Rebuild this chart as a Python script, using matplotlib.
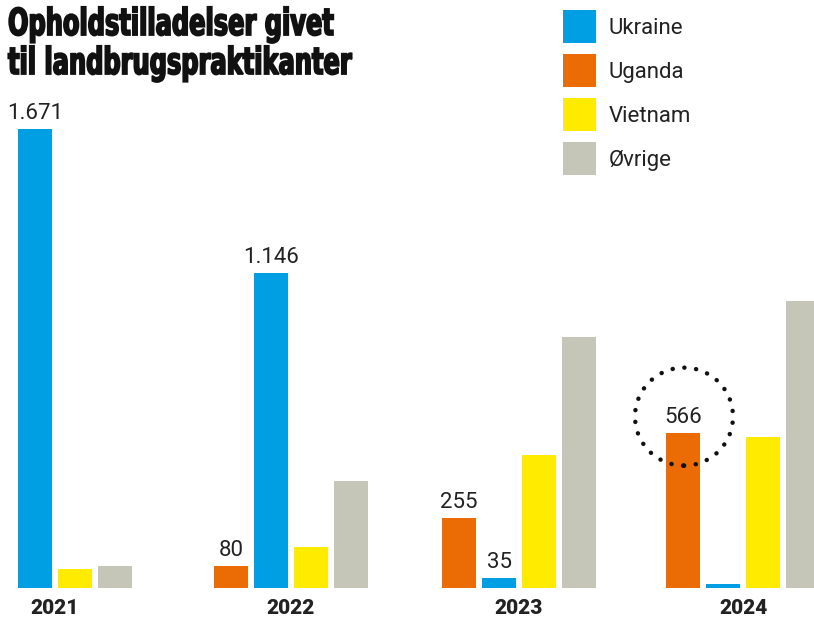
import matplotlib
matplotlib.use("Agg")
import matplotlib.pyplot as plt
from matplotlib.patches import Ellipse
from matplotlib.patheffects import AbstractPathEffect
from matplotlib.transforms import Affine2D

# Data
years = ['2021', '2022', '2023', '2024']
ukraine = [1671, 1146, 35, 13]
uganda = [0, 80, 255, 566]
vietnam = [68, 148, 483, 549]
ovrige = [79, 389, 913, 1044]
# which bars carry a value label
label_uganda = [False, True, True, True]
label_ukraine = [True, True, True, False]

# Colours
c_ukraine = '#009FE3'
c_uganda = '#EB6B05'
c_vietnam = '#FFEB00'
c_ovrige = '#C5C5B8'
txt = '#222222'


class Squeeze(AbstractPathEffect):
    # squeeze text horizontally (and fatten it a bit) to fake a condensed black face
    def __init__(self, sx=0.65, lw=0.0):
        super().__init__()
        self.sx = sx
        self.lw = lw

    def draw_path(self, renderer, gc, tpath, affine, rgbFace=None):
        m = affine.get_matrix().copy()
        m[0, 0] *= self.sx
        m[0, 1] *= self.sx
        gc0 = renderer.new_gc()
        gc0.copy_properties(gc)
        if self.lw:
            gc0.set_linewidth(self.lw)
            gc0.set_foreground(rgbFace)
            gc0.set_joinstyle('miter')
        renderer.draw_path(gc0, tpath, Affine2D(m), rgbFace)
        gc0.restore()


# Layout in pixel-like units
group_x = [55, 291, 519, 743]
bw = 34
step = 40
px_per_unit = 0.2745

fig = plt.figure(figsize=(8.14, 6.17), dpi=100)
ax = fig.add_axes([0, 0, 1, 1])
ax.set_xlim(0, 814)
ax.set_ylim(-29 / px_per_unit, (617 - 29) / px_per_unit)
ax.axis('off')

x_ug = [g - 1.5 * step for g in group_x]
x_uk = [g - 0.5 * step for g in group_x]
x_vi = [g + 0.5 * step for g in group_x]
x_ov = [g + 1.5 * step for g in group_x]

b_uk = ax.bar(x_uk, ukraine, width=bw, color=c_ukraine, label='Ukraine')
b_ug = ax.bar(x_ug, uganda, width=bw, color=c_uganda, label='Uganda')
b_vi = ax.bar(x_vi, vietnam, width=bw, color=c_vietnam, label='Vietnam')
b_ov = ax.bar(x_ov, ovrige, width=bw, color=c_ovrige, label='Øvrige')

def fmt(v):
    return f'{v:,}'.replace(',', '.')

lab_font = dict(family='Roboto', fontsize=16, color=txt, ha='center', va='bottom')
pad = 5 / px_per_unit
for i in range(len(years)):
    if label_uganda[i]:
        ax.text(x_ug[i], uganda[i] + pad, fmt(uganda[i]), **lab_font)
    if label_ukraine[i]:
        ax.text(x_uk[i], ukraine[i] + pad, fmt(ukraine[i]), **lab_font)
    ax.text(group_x[i], -21 / px_per_unit, years[i], family='Roboto',
            fontweight='black', fontsize=15, color=txt, ha='center', va='center')

# dotted ring around the 2024 Uganda label
plt.rcParams['lines.scale_dashes'] = False
ring = Ellipse((x_ug[3] + 1, uganda[3] + 16 / px_per_unit), 98, 98 / px_per_unit,
               fill=False, edgecolor='#111111', linewidth=3.2,
               linestyle=(0, (0.1, 8.4)))
ring.set_capstyle('round')
ax.add_patch(ring)

# legend
ax.legend([b_uk, b_ug, b_vi, b_ov], ['Ukraine', 'Uganda', 'Vietnam', 'Øvrige'],
          loc='upper left', bbox_to_anchor=(563 / 814, 1 - 10 / 617),
          frameon=False, borderpad=0, borderaxespad=0,
          handlelength=1.5, handleheight=1.91, handletextpad=0.55,
          labelspacing=0.5, prop=dict(family='Roboto', size=16), labelcolor=txt)

# title, two lines placed on their baselines
title_lines = ['Opholdstilladelser givet', 'til landbrugspraktikanter']
title_base = [35, 74]
for line, yb in zip(title_lines, title_base):
    fig.text(8 / 814, 1 - yb / 617, line, family='DejaVu Sans', fontweight='bold',
             fontsize=26.7, color='#111111', ha='left', va='baseline',
             path_effects=[Squeeze(0.65, 1.3)])

fig.savefig('out.png', dpi=100)
